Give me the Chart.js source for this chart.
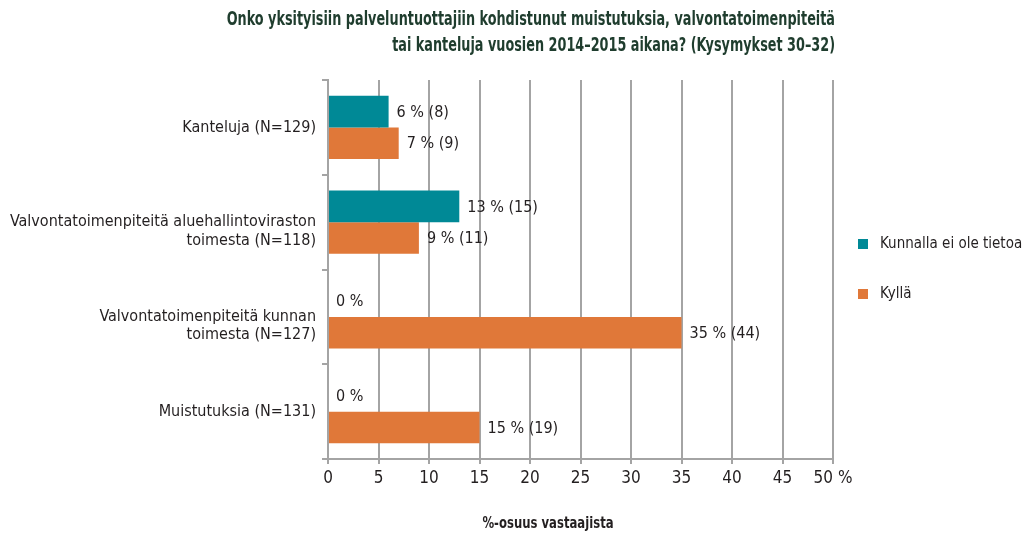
<!DOCTYPE html>
<html lang="fi">
<head>
<meta charset="utf-8">
<title>Muistutukset, valvontatoimenpiteet ja kantelut 2014–2015</title>
<script src="https://cdn.jsdelivr.net/npm/chart.js@4.4.1/dist/chart.umd.min.js"></script>
<style>
  html, body { margin: 0; padding: 0; background: #ffffff; }
  #kehys { width: 1024px; height: 534px; position: relative; }
</style>
</head>
<body>
<div id="kehys"><canvas id="kaavio"></canvas></div>
<script>
// Kategoriat (tyhjä rivi alussa laskee kaksirivisen tekstin hieman alemmas)
const kategoriat = [
    'Kanteluja (N=129)',
    ['', 'Valvontatoimenpiteitä aluehallintoviraston', 'toimesta (N=118)'],
    ['', 'Valvontatoimenpiteitä kunnan', 'toimesta (N=127)'],
    'Muistutuksia (N=131)'
];
const sarjaNimet = ['Kunnalla ei ole tietoa', 'Kyllä'];

// Osuudet (%) ja vastaajamäärät
const eiTietoaProsentit = [6, 13, 0, 0];
const eiTietoaLkm       = [8, 15, 0, 0];
const kyllaProsentit    = [7, 9, 35, 15];
const kyllaLkm          = [9, 11, 44, 19];

const xTikkiTekstit = ['0', '5', '10', '15', '20', '25', '30', '35', '40', '45', '50 %'];
const otsikkoRivit = [
    'Onko yksityisiin palveluntuottajiin kohdistunut muistutuksia, valvontatoimenpiteitä',
    'tai kanteluja vuosien 2014–2015 aikana? (Kysymykset 30–32)'
];
const akselinOtsikko = '%-osuus vastaajista';

const FONTTI = '"Liberation Sans Narrow", "DejaVu Sans Condensed", sans-serif';
const TEKSTIVARI = '#231f20';
const VIIVAVARI = '#a4a4a4';
const VARIT = ['#008996', '#e07839'];

// Kapeutettu teksti (lihavoidut otsikot ovat tiiviimpiä kuin saatavilla oleva fontti)
function kapeaTeksti(ctx, teksti, x, y, kerroin) {
    ctx.save();
    ctx.scale(kerroin, 1);
    ctx.fillText(teksti, x / kerroin, y);
    ctx.restore();
}

// Otsikot, akselin nimi ja selite piirretään itse
const tekstiPlugin = {
    id: 'tekstit',
    afterDraw(chart) {
        const { ctx, chartArea, data } = chart;
        ctx.save();

        ctx.fillStyle = '#1f3d2e';
        ctx.font = `bold 19px ${FONTTI}`;
        ctx.textAlign = 'right';
        ctx.textBaseline = 'middle';
        otsikkoRivit.forEach((rivi, i) => kapeaTeksti(ctx, rivi, chartArea.right + 2, 20 + i * 26, 0.75));

        ctx.fillStyle = TEKSTIVARI;
        ctx.font = `bold 16px ${FONTTI}`;
        ctx.textAlign = 'center';
        kapeaTeksti(ctx, akselinOtsikko, chartArea.left + 220, 524, 0.81);

        // Selite
        ctx.font = `15px ${FONTTI}`;
        ctx.textAlign = 'left';
        data.datasets.forEach((ds, i) => {
            const y = 244 + i * 50;
            ctx.fillStyle = ds.backgroundColor;
            ctx.fillRect(858, y - 5, 10, 10);
            ctx.fillStyle = TEKSTIVARI;
            ctx.fillText(ds.label, 880, y);
        });
        ctx.restore();
    }
};

// Arvotekstit palkkien perään
const arvoPlugin = {
    id: 'arvot',
    afterDatasetsDraw(chart) {
        const { ctx } = chart;
        ctx.save();
        ctx.font = `16px ${FONTTI}`;
        ctx.fillStyle = TEKSTIVARI;
        ctx.textAlign = 'left';
        ctx.textBaseline = 'middle';
        chart.data.datasets.forEach((ds, i) => {
            chart.getDatasetMeta(i).data.forEach((palkki, j) => {
                const arvo = ds.data[j];
                const lkm = ds.lkm[j];
                const teksti = lkm ? `${arvo} % (${lkm})` : `${arvo} %`;
                ctx.fillText(teksti, palkki.x + 8, palkki.y + 1);
            });
        });
        ctx.restore();
    }
};

new Chart(document.getElementById('kaavio'), {
    type: 'bar',
    data: {
        labels: kategoriat,
        datasets: [
            {
                label: sarjaNimet[0],
                data: eiTietoaProsentit,
                lkm: eiTietoaLkm,
                backgroundColor: VARIT[0],
                categoryPercentage: 0.665,
                barPercentage: 1.0
            },
            {
                label: sarjaNimet[1],
                data: kyllaProsentit,
                lkm: kyllaLkm,
                backgroundColor: VARIT[1],
                categoryPercentage: 0.665,
                barPercentage: 1.0
            }
        ]
    },
    options: {
        indexAxis: 'y',
        responsive: true,
        maintainAspectRatio: false,
        animation: false,
        layout: { padding: { top: 80, right: 191, bottom: 0, left: 0 } },
        plugins: {
            legend: { display: false },
            title: { display: false },
            tooltip: { enabled: false }
        },
        scales: {
            x: {
                min: 0,
                max: 50,
                ticks: {
                    stepSize: 5,
                    color: TEKSTIVARI,
                    font: { family: FONTTI, size: 17 },
                    padding: 4,
                    callback: (v, i) => xTikkiTekstit[i]
                },
                grid: { color: VIIVAVARI, lineWidth: 2, tickLength: 5 },
                border: { color: VIIVAVARI, width: 2 },
                afterFit: (akseli) => { akseli.height = 75; }
            },
            y: {
                ticks: {
                    color: TEKSTIVARI,
                    font: { family: FONTTI, size: 16, lineHeight: 1.15 },
                    padding: 6
                },
                grid: { drawOnChartArea: false, color: VIIVAVARI, lineWidth: 2, tickLength: 6 },
                border: { color: VIIVAVARI, width: 2 },
                afterFit: (akseli) => { akseli.width = 328; }
            }
        }
    },
    plugins: [arvoPlugin, tekstiPlugin]
});
</script>
</body>
</html>
